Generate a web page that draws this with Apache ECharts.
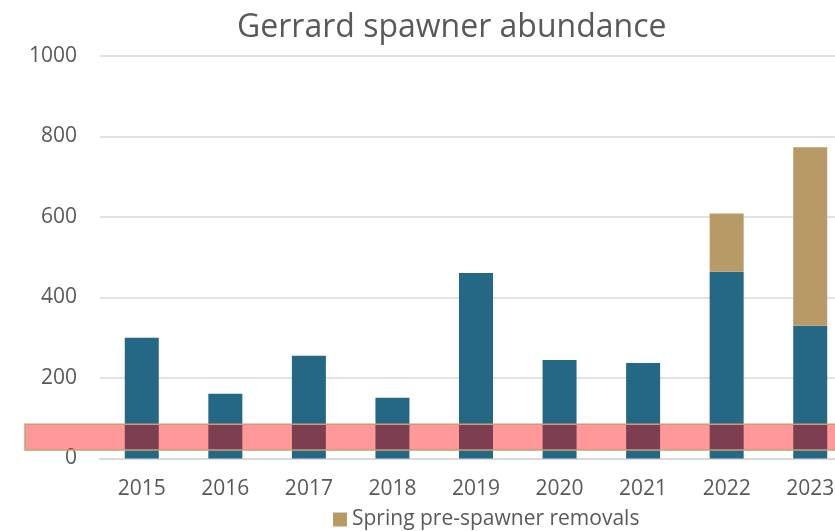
<!DOCTYPE html>
<html>
<head>
<meta charset="utf-8">
<script src="https://cdn.jsdelivr.net/npm/echarts@6/dist/echarts.min.js"></script>
<style>html,body{margin:0;padding:0;background:#fff;}#c{width:835px;height:531px;}</style>
</head>
<body>
<div id="c"></div>
<script>
const categories = ['2015','2016','2017','2018','2019','2020','2021','2022','2023'];
const spawners = [300, 161, 255, 151, 461, 245, 237, 464, 330];
const removals = [0, 0, 0, 0, 0, 0, 0, 145, 443];
const bandRange = [21, 85];
const yTicks = { min: 0, max: 1000, interval: 200 };

const chart = echarts.init(document.getElementById('c'), null, { renderer: 'canvas' });
const FONT = "'Open Sans', sans-serif";
const TXT = '#595959';
chart.setOption({
  animation: false,
  backgroundColor: '#ffffff',
  title: {
    text: 'Gerrard spawner abundance',
    left: 232,
    top: 7,
    textStyle: { fontFamily: FONT, fontSize: 32, fontWeight: 'normal', color: TXT }
  },
  legend: {
    data: ['Spring pre-spawner removals'],
    top: 504,
    left: 328,
    itemWidth: 14,
    itemHeight: 14,
    itemGap: 10,
    icon: 'rect',
    textStyle: { fontFamily: FONT, fontSize: 21, color: TXT }
  },
  grid: [
    { left: 100, width: 752, top: 56, bottom: 72.5, containLabel: false, outerBoundsMode: 'none' },
    { left: 25, width: 827, top: 56, bottom: 72.5, containLabel: false, outerBoundsMode: 'none' }
  ],
  xAxis: [
    {
      type: 'category', data: categories, gridIndex: 0,
      axisLine: { lineStyle: { color: '#d9d9d9', width: 2 } },
      axisTick: { show: false },
      axisLabel: { fontFamily: FONT, fontSize: 21, color: TXT, margin: 20 }
    },
    { type: 'value', gridIndex: 1, min: 0, max: 1, show: false }
  ],
  yAxis: [
    {
      type: 'value', gridIndex: 0, min: yTicks.min, max: yTicks.max, interval: yTicks.interval,
      axisLine: { show: false },
      axisTick: { show: false },
      splitLine: { lineStyle: { color: '#d9d9d9', width: 1.5 } },
      axisLabel: { fontFamily: FONT, fontSize: 21, color: TXT, margin: 23, formatter: function (v) { return String(v); } }
    },
    { type: 'value', gridIndex: 1, min: yTicks.min, max: yTicks.max, show: false }
  ],
  series: [
    {
      name: 'Spawner abundance', type: 'bar', stack: 'total', data: spawners,
      xAxisIndex: 0, yAxisIndex: 0,
      barWidth: 34,
      itemStyle: { color: '#256886' }, z: 2
    },
    {
      name: 'Spring pre-spawner removals', type: 'bar', stack: 'total', data: removals,
      xAxisIndex: 0, yAxisIndex: 0,
      barWidth: 34,
      itemStyle: { color: '#b89a67' }, z: 2
    },
    {
      name: 'band', type: 'custom', xAxisIndex: 1, yAxisIndex: 1, z: 5,
      data: [[0, bandRange[0], 1, bandRange[1]]],
      clip: false,
      renderItem: function (params, api) {
        const p1 = api.coord([api.value(0), api.value(3)]);
        const p2 = api.coord([api.value(2), api.value(1)]);
        return {
          type: 'rect',
          shape: { x: p1[0], y: p1[1], width: p2[0] - p1[0], height: p2[1] - p1[1] },
          style: { fill: 'rgba(255,0,0,0.4)', stroke: '#c2a272', lineWidth: 1.5 }
        };
      }
    }
  ]
});
</script>
</body>
</html>
